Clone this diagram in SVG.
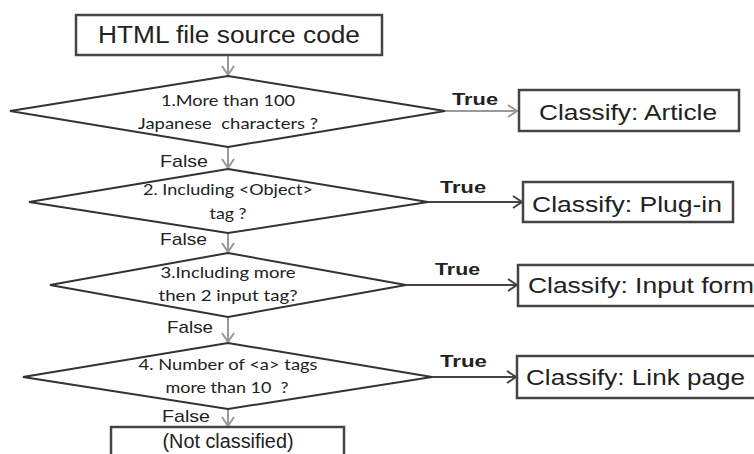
<svg xmlns="http://www.w3.org/2000/svg" width="754" height="454" viewBox="0 0 754 454">
<style>
.box{fill:#fff;stroke:#444;stroke-width:2.5}
.dia{fill:#fff;stroke:#333;stroke-width:2}
.bt{font-family:"Liberation Sans",Arial,sans-serif;fill:#222}
.dt{font-family:Lato,"Open Sans",sans-serif;font-size:16px;fill:#222;text-anchor:middle;white-space:pre}
.lbl{font-family:"Liberation Sans",Arial,sans-serif;font-size:17px;fill:#222}
.tr{font-family:"Liberation Sans",Arial,sans-serif;font-size:17px;font-weight:bold;fill:#222}
.g{stroke:#999;stroke-width:2;fill:none}
.d{stroke:#444;stroke-width:2;fill:none}
</style>
<defs>
<marker id="ag" markerUnits="userSpaceOnUse" markerWidth="14" markerHeight="14" refX="10" refY="7" orient="auto" viewBox="0 0 14 14">
<path d="M1,1 L10,7 L1,13" fill="none" stroke="#999" stroke-width="2"/>
</marker>
<marker id="ad" markerUnits="userSpaceOnUse" markerWidth="14" markerHeight="14" refX="10" refY="7" orient="auto" viewBox="0 0 14 14">
<path d="M1,1 L10,7 L1,13" fill="none" stroke="#444" stroke-width="2"/>
</marker>
</defs>
<g id="connectors">
<line class="g" x1="228" y1="56" x2="228" y2="75" marker-end="url(#ag)"/>
<line class="g" x1="228" y1="147" x2="228" y2="168" marker-end="url(#ag)"/>
<line class="g" x1="228" y1="233" x2="228" y2="252" marker-end="url(#ag)"/>
<line class="g" x1="228" y1="317" x2="228" y2="342" marker-end="url(#ag)"/>
<line class="g" x1="228" y1="409" x2="228" y2="426" marker-end="url(#ag)"/>
<line class="g" x1="445" y1="111" x2="517" y2="111" marker-end="url(#ag)"/>
<line class="d" x1="428" y1="202" x2="522" y2="202" marker-end="url(#ad)"/>
<line class="d" x1="406" y1="285" x2="517" y2="285" marker-end="url(#ad)"/>
<line class="d" x1="432" y1="377" x2="516" y2="377" marker-end="url(#ad)"/>
<text class="tr" x="452" y="105" textLength="46" lengthAdjust="spacingAndGlyphs">True</text>
<text class="tr" x="440" y="193" textLength="46" lengthAdjust="spacingAndGlyphs">True</text>
<text class="tr" x="435" y="275" textLength="45" lengthAdjust="spacingAndGlyphs">True</text>
<text class="tr" x="440" y="367" textLength="47" lengthAdjust="spacingAndGlyphs">True</text>
<text class="lbl" x="160" y="167" textLength="48" lengthAdjust="spacingAndGlyphs">False</text>
<text class="lbl" x="160" y="245" textLength="47" lengthAdjust="spacingAndGlyphs">False</text>
<text class="lbl" x="167" y="333" textLength="46" lengthAdjust="spacingAndGlyphs">False</text>
<text class="lbl" x="162" y="422" textLength="48" lengthAdjust="spacingAndGlyphs">False</text>
</g>
<g id="start">
<rect class="box" x="76" y="15" width="306" height="40"/>
<text class="bt" x="98" y="43" font-size="23" textLength="262" lengthAdjust="spacingAndGlyphs">HTML file source code</text>
</g>
<g id="q1">
<polygon class="dia" points="228,76 445,111 228,147 10,111"/>
<text class="dt" x="228" y="106" textLength="134" lengthAdjust="spacingAndGlyphs">1.More than 100</text>
<text class="dt" x="228" y="129" textLength="180" lengthAdjust="spacingAndGlyphs" xml:space="preserve">Japanese  characters ?</text>
</g>
<g id="q2">
<polygon class="dia" points="228,169 428,202 228,233 29,202"/>
<text class="dt" x="228" y="195" textLength="170" lengthAdjust="spacingAndGlyphs">2. Including &lt;Object&gt;</text>
<text class="dt" x="228" y="219" textLength="37" lengthAdjust="spacingAndGlyphs">tag ?</text>
</g>
<g id="q3">
<polygon class="dia" points="228,253 406,285 228,317 50,285"/>
<text class="dt" x="228" y="278" textLength="135" lengthAdjust="spacingAndGlyphs">3.Including more</text>
<text class="dt" x="228" y="301" textLength="139" lengthAdjust="spacingAndGlyphs">then 2 input tag?</text>
</g>
<g id="q4">
<polygon class="dia" points="228,343 432,377 228,409 23,377"/>
<text class="dt" x="228" y="370" textLength="179" lengthAdjust="spacingAndGlyphs">4. Number of &lt;a&gt; tags</text>
<text class="dt" x="227" y="393" textLength="123" lengthAdjust="spacingAndGlyphs" xml:space="preserve">more than 10  ?</text>
</g>
<g id="article">
<rect class="box" x="519" y="90" width="220" height="41"/>
<text class="bt" x="539" y="120" font-size="22" textLength="178" lengthAdjust="spacingAndGlyphs">Classify: Article</text>
</g>
<g id="plugin">
<rect class="box" x="523" y="182" width="210" height="40"/>
<text class="bt" x="532" y="212" font-size="22" textLength="190" lengthAdjust="spacingAndGlyphs">Classify: Plug-in</text>
</g>
<g id="inputform">
<rect class="box" x="518" y="265" width="250" height="41"/>
<text class="bt" x="528" y="293" font-size="22" textLength="226" lengthAdjust="spacingAndGlyphs">Classify: Input form</text>
</g>
<g id="linkpage">
<rect class="box" x="517" y="356" width="250" height="42"/>
<text class="bt" x="526" y="385" font-size="22" textLength="219" lengthAdjust="spacingAndGlyphs">Classify: Link page</text>
</g>
<g id="notclassified">
<rect class="box" x="111" y="427" width="233" height="40"/>
<text class="bt" x="228" y="448" font-size="20" text-anchor="middle" textLength="131" lengthAdjust="spacingAndGlyphs">(Not classified)</text>
</g>
</svg>
